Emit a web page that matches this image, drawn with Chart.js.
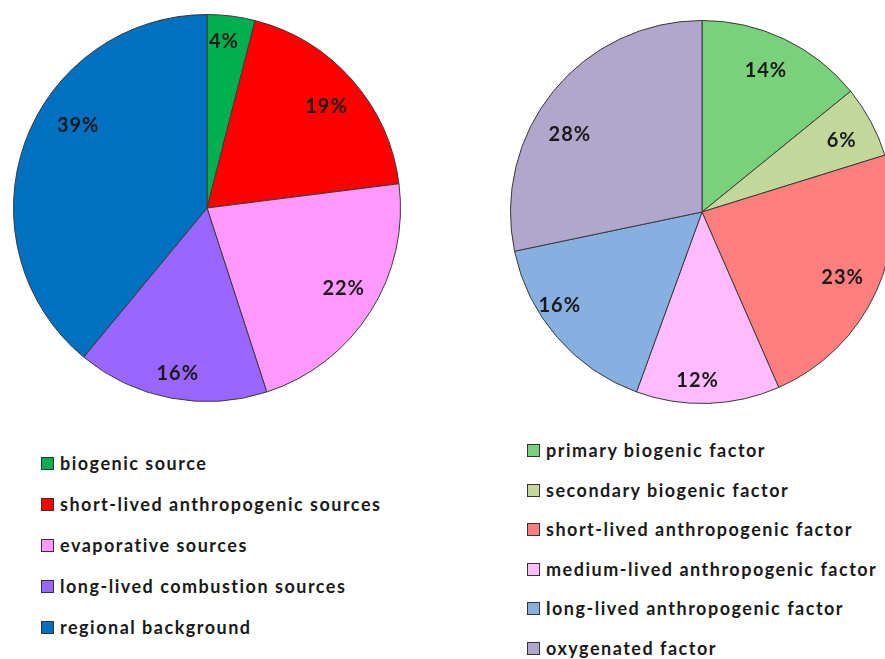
<!DOCTYPE html>
<html>
<head>
<meta charset="utf-8">
<script src="https://cdn.jsdelivr.net/npm/chart.js@4.4.1/dist/chart.umd.min.js"></script>
<style>
  html, body { margin: 0; padding: 0; background: #fff; overflow: hidden; }
  body { width: 885px; height: 659px; position: relative; }
  .pie { position: absolute; }
  #pieA { left: 13px; top: 14px; width: 388px; height: 388px; }
  #pieB { left: 510px; top: 20px; width: 384px; height: 384px; }
  .legend { position: absolute; font-family: Lato, "Open Sans", sans-serif; font-weight: bold;
            font-size: 18px; letter-spacing: 1.5px; color: #1a1a1a; }
  .legend div { position: absolute; white-space: nowrap; line-height: 20px; }
  .legend span.sw { position: absolute; left: 0; top: 4px; width: 11px; height: 11px;
                    border: 1px solid #333; }
  .legend span.tx { position: absolute; left: 19px; top: 0; }
  #legA { left: 41px; top: 453px; }
  #legB { left: 527px; top: 440px; }
</style>
</head>
<body>
<div class="pie" id="pieA"><canvas id="cA"></canvas></div>
<div class="pie" id="pieB"><canvas id="cB"></canvas></div>
<div class="legend" id="legA"></div>
<div class="legend" id="legB"></div>
<script>
// Source apportionment (left) and factor analysis (right), shares in percent
const sourceLabels = ['biogenic source', 'short-lived anthropogenic sources', 'evaporative sources',
                      'long-lived combustion sources', 'regional background'];
const sourceValues = [4, 19, 22, 16, 39];
const sourceColors = ['#00B050', '#FF0000', '#FF99FF', '#9966FF', '#0070C0'];

const factorLabels = ['primary biogenic factor', 'secondary biogenic factor', 'short-lived anthropogenic factor',
                      'medium-lived anthropogenic factor', 'long-lived anthropogenic factor', 'oxygenated factor'];
const factorValues = [14, 6, 23, 12, 16, 28];
const factorColors = ['#79D279', '#C4D79B', '#FF7F7F', '#FFBBFF', '#85B0E0', '#B1A7CC'];

// Per-slice label placement: fraction of radius, and angular nudge in degrees
const sourceLabelPos = { r: [0.865, 0.81, 0.82, 0.87, 0.79], d: [-1.4, 1.1, -1.9, -0.8, 12.8] };
const factorLabelPos = { r: [0.81, 0.82, 0.81, 0.88, 0.89, 0.80], d: [-1.1, 1.0, 0.4, 3.3, 7.5, -8.7] };

const percentLabels = {
  id: 'percentLabels',
  afterDatasetsDraw(chart, args, opts) {
    const ctx = chart.ctx;
    const meta = chart.getDatasetMeta(0);
    const vals = chart.data.datasets[0].data;
    ctx.save();
    ctx.font = 'bold 20px Lato, "Open Sans", sans-serif';
    ctx.letterSpacing = '1px';
    ctx.fillStyle = '#1a1a1a';
    ctx.textAlign = 'center';
    ctx.textBaseline = 'middle';
    meta.data.forEach((arc, i) => {
      const p = arc.getProps(['x', 'y', 'startAngle', 'endAngle', 'outerRadius'], true);
      const mid = (p.startAngle + p.endAngle) / 2 + opts.pos.d[i] * Math.PI / 180;
      const rr = p.outerRadius * opts.pos.r[i];
      ctx.fillText(vals[i] + '%', p.x + Math.cos(mid) * rr, p.y + Math.sin(mid) * rr);
    });
    ctx.restore();
  }
};

function makePie(id, labels, values, colors, pos) {
  return new Chart(document.getElementById(id), {
    type: 'pie',
    data: { labels: labels, datasets: [{ data: values, backgroundColor: colors,
            borderColor: '#3a3a3a', borderWidth: 1 }] },
    options: {
      responsive: true, maintainAspectRatio: false, animation: false,
      layout: { padding: 0 },
      plugins: { legend: { display: false }, tooltip: { enabled: false },
                 percentLabels: { pos: pos } }
    },
    plugins: [percentLabels]
  });
}

function makeLegend(id, labels, colors, step) {
  const el = document.getElementById(id);
  labels.forEach((t, i) => {
    const row = document.createElement('div');
    row.style.top = (i * step) + 'px';
    row.innerHTML = '<span class="sw" style="background:' + colors[i] + '"></span><span class="tx"></span>';
    row.querySelector('.tx').textContent = t;
    el.appendChild(row);
  });
}

makePie('cA', sourceLabels, sourceValues, sourceColors, sourceLabelPos);
makePie('cB', factorLabels, factorValues, factorColors, factorLabelPos);
makeLegend('legA', sourceLabels, sourceColors, 41);
makeLegend('legB', factorLabels, factorColors, 39.5);
</script>
</body>
</html>
